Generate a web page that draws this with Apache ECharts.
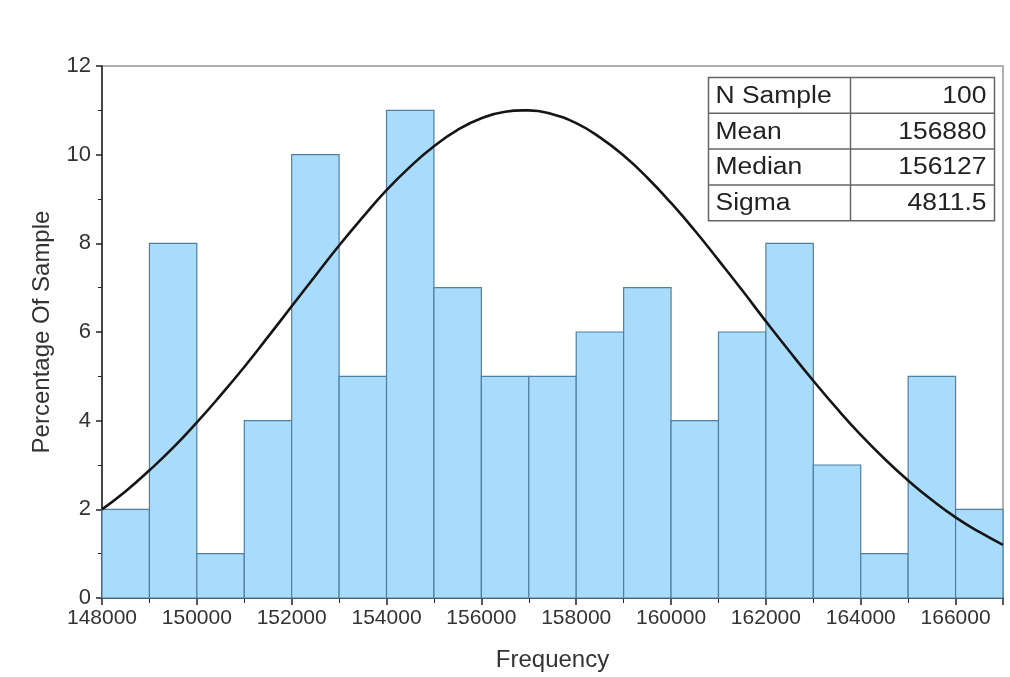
<!DOCTYPE html>
<html>
<head>
<meta charset="utf-8">
<script src="https://cdn.jsdelivr.net/npm/echarts@6/dist/echarts.min.js"></script>
<style>
  html, body { margin: 0; padding: 0; background: #fff; }
  #main { width: 1010px; height: 677px; }
</style>
</head>
<body>
<div id="main"></div>
<script>
// histogram bins (start of each 1000-wide bin) and percentages
var binStart = [148000, 149000, 150000, 151000, 152000, 153000, 154000, 155000, 156000, 157000,
                158000, 159000, 160000, 161000, 162000, 163000, 164000, 165000, 166000];
var binWidth = 1000;
var percent = [2, 8, 1, 4, 10, 5, 11, 7, 5, 5, 6, 7, 4, 6, 8, 3, 1, 5, 2];

// fitted normal curve
var curveX = [148000, 148500, 149000, 149500, 150000, 150500, 151000, 151500, 152000, 152500,
              153000, 153500, 154000, 154500, 155000, 155500, 156000, 156500, 156880, 157000,
              157500, 158000, 158500, 159000, 159500, 160000, 160500, 161000, 161500, 162000,
              162500, 163000, 163500, 164000, 164500, 165000, 165500, 166000, 166500, 167000];
var curveY = [2.00, 2.41, 2.88, 3.39, 3.96, 4.57, 5.21, 5.89, 6.58, 7.27,
              7.95, 8.59, 9.20, 9.73, 10.19, 10.56, 10.82, 10.97, 11.00, 11.00,
              10.91, 10.71, 10.39, 9.98, 9.48, 8.91, 8.29, 7.62, 6.94, 6.24,
              5.56, 4.90, 4.27, 3.68, 3.14, 2.65, 2.21, 1.82, 1.49, 1.20];

// stats table
var statNames = ['N Sample', 'Mean', 'Median', 'Sigma'];
var statValues = ['100', '156880', '156127', '4811.5'];

var myChart = echarts.init(document.getElementById('main'));

var barData = [];
for (var i = 0; i < binStart.length; i++) {
    barData.push([binStart[i], binStart[i] + binWidth, percent[i]]);
}
var curveData = [];
for (var j = 0; j < curveX.length; j++) {
    curveData.push([curveX[j], curveY[j]]);
}

var fontFam = '"Liberation Sans", Arial, sans-serif';

// table drawn as graphic elements
var tbl = { left: 706, top: 75, w: 286, rowH: 35.8, col: 142 };
var tableChildren = [];
tableChildren.push({
    type: 'rect', shape: { x: 0, y: 0, width: tbl.w, height: tbl.rowH * statNames.length },
    style: { fill: '#fff', stroke: '#666', lineWidth: 1.5 }
});
tableChildren.push({
    type: 'line', shape: { x1: tbl.col, y1: 0, x2: tbl.col, y2: tbl.rowH * statNames.length },
    style: { stroke: '#666', lineWidth: 1.5 }
});
for (var k = 0; k < statNames.length; k++) {
    if (k > 0) {
        tableChildren.push({
            type: 'line', shape: { x1: 0, y1: tbl.rowH * k, x2: tbl.w, y2: tbl.rowH * k },
            style: { stroke: '#666', lineWidth: 1.5 }
        });
    }
    tableChildren.push({
        type: 'text', x: 7, y: tbl.rowH * k + tbl.rowH / 2 + 1, scaleX: 1.15,
        style: { text: statNames[k], fill: '#222', font: '23px ' + fontFam, textVerticalAlign: 'middle' }
    });
    tableChildren.push({
        type: 'text', x: tbl.w - 8, y: tbl.rowH * k + tbl.rowH / 2 + 1, scaleX: 1.15,
        style: { text: statValues[k], fill: '#222', font: '23px ' + fontFam, textAlign: 'right', textVerticalAlign: 'middle' }
    });
}

var option = {
    animation: false,
    backgroundColor: '#fff',
    grid: {
        left: 102, right: 7, top: 66, bottom: 77,
        show: true, borderColor: '#b0b0b0', borderWidth: 2, backgroundColor: 'transparent'
    },
    xAxis: {
        type: 'value',
        min: 148000, max: 167000, interval: 2000,
        name: 'Frequency', nameLocation: 'middle', nameGap: 50,
        nameTextStyle: { fontSize: 24, color: '#333', fontFamily: 'Liberation Sans' },
        axisLine: { show: true, lineStyle: { color: '#222', width: 1.5 } },
        axisTick: { show: true, length: 7, lineStyle: { color: '#222', width: 1.5 } },
        minorTick: { show: true, splitNumber: 2, length: 5, lineStyle: { color: '#222' } },
        splitLine: { show: false },
        axisLabel: {
            fontSize: 21, color: '#333', margin: 10, fontFamily: 'Liberation Sans',
            formatter: function (v) { return String(v); }
        }
    },
    yAxis: {
        type: 'value',
        min: 0, max: 12, interval: 2,
        name: 'Percentage Of Sample', nameLocation: 'middle', nameGap: 48, nameRotate: 90,
        nameTextStyle: { fontSize: 24, color: '#333', fontFamily: 'Liberation Sans' },
        axisLine: { show: true, lineStyle: { color: '#222', width: 1.5 } },
        axisTick: { show: true, length: 6, lineStyle: { color: '#222', width: 1.5 } },
        minorTick: { show: true, splitNumber: 2, length: 4, lineStyle: { color: '#222' } },
        splitLine: { show: false },
        axisLabel: { fontSize: 22, color: '#333', margin: 11, fontFamily: 'Liberation Sans' }
    },
    series: [
        {
            type: 'custom',
            data: barData,
            encode: { x: [0, 1], y: 2 },
            renderItem: function (params, api) {
                var p0 = api.coord([api.value(0), api.value(2)]);
                var p1 = api.coord([api.value(1), 0]);
                return {
                    type: 'rect',
                    shape: { x: p0[0], y: p0[1], width: p1[0] - p0[0], height: p1[1] - p0[1] },
                    style: { fill: '#a9dcfb', stroke: '#527f9e', lineWidth: 1.2 }
                };
            },
            z: 2
        },
        {
            type: 'line',
            data: curveData,
            smooth: true,
            showSymbol: false,
            lineStyle: { color: '#151515', width: 2.6 },
            z: 3
        }
    ],
    graphic: [
        { type: 'group', left: tbl.left, top: tbl.top, z: 100, children: tableChildren }
    ]
};

myChart.setOption(option);
</script>
</body>
</html>
